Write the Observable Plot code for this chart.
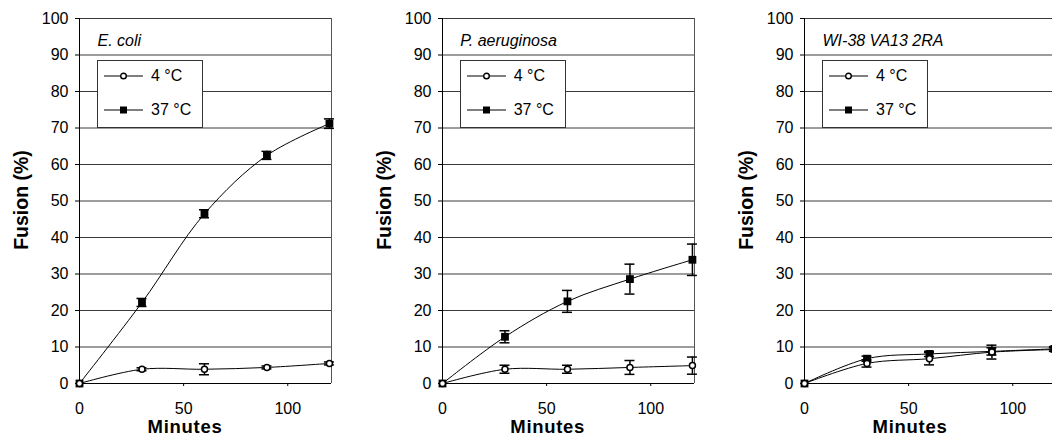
<!DOCTYPE html>
<html>
<head>
<meta charset="utf-8">
<script src="https://cdn.jsdelivr.net/npm/d3@7"></script>
<script src="https://cdn.jsdelivr.net/npm/@observablehq/plot@0.6"></script>
<style>
  body { margin: 0; background: #fff; }
  #chart {
    position: relative; width: 1052px; height: 439px; overflow: hidden;
    font-family: "Liberation Sans", Arial, sans-serif; color: #000; background: #fff;
  }
  .panel { position: absolute; top: 0; width: 351px; height: 439px; }
  .panel svg { position: absolute; left: 0; top: 0; }
  .ytitle {
    position: absolute; font-weight: bold; font-size: 19.5px; line-height: 20px;
    white-space: nowrap; transform: translate(-50%, -50%) rotate(-90deg);
  }
  .xtitle {
    position: absolute; font-weight: bold; font-size: 18.5px; line-height: 14px;
    letter-spacing: 0.7px; white-space: nowrap; transform: translateX(-50%);
  }
  .ptitle {
    position: absolute; font-style: italic; font-size: 16px; line-height: 16px; white-space: nowrap;
  }
  .legend {
    position: absolute; box-sizing: border-box; border: 1px solid #333; background: #fff;
  }
  .legend svg { position: absolute; left: 0; }
  .legend span {
    position: absolute; font-size: 16px; line-height: 16px; white-space: nowrap;
  }
</style>
</head>
<body>
<div id="chart"></div>
<script>
// Sampling times (minutes)
const minutes = [0, 30, 60, 90, 120];

// E. coli
const ecoli4 = [0, 3.9, 3.9, 4.4, 5.5];
const ecoli4Err = [0, 0.4, 1.5, 0.4, 0.4];
const ecoli37 = [0, 22.2, 46.5, 62.5, 71.2];
const ecoli37Err = [0, 1.1, 1.1, 1.1, 1.3];

// P. aeruginosa
const paer4 = [0, 3.9, 3.9, 4.4, 4.9];
const paer4Err = [0, 1.1, 1.1, 1.9, 2.35];
const paer37 = [0, 12.8, 22.5, 28.6, 33.9];
const paer37Err = [0, 1.65, 3.0, 4.1, 4.3];

// WI-38 VA13 2RA
const wi4 = [0, 5.5, 6.8, 8.6, 9.3];
const wi4Err = [0, 1.0, 1.7, 1.9, 0.5];
const wi37 = [0, 6.8, 8.1, 8.8, 9.5];
const wi37Err = [0, 0.7, 0.7, 1.0, 0.6];

const panelTitles = ["E. coli", "P. aeruginosa", "WI-38 VA13 2RA"];
const seriesLabels = ["4 °C", "37 °C"];
const yTicks = [0, 10, 20, 30, 40, 50, 60, 70, 80, 90, 100];
const xTicks = [0, 50, 100];
const xMax = 121;
const yAxisTitle = "Fusion (%)";
const xAxisTitle = "Minutes";

const panelData = [
  [ecoli4, ecoli4Err, ecoli37, ecoli37Err],
  [paer4, paer4Err, paer37, paer37Err],
  [wi4, wi4Err, wi37, wi37Err]
];

const panelLeft = [0, 362.7, 725];
const chart = document.getElementById("chart");

function rows(values, errs) {
  return minutes.map((t, i) => ({t, v: values[i], lo: values[i] - errs[i], hi: values[i] + errs[i]}));
}

// Vertical whisker plus short caps at both ends
function errorBars(data) {
  return [
    Plot.ruleX(data, {x: "t", y1: "lo", y2: "hi", stroke: "#000", strokeWidth: 1.5}),
    Plot.ruleY(data, {y: "lo", x1: "t", x2: "t", insetLeft: -5, insetRight: -5, stroke: "#000", strokeWidth: 1.5}),
    Plot.ruleY(data, {y: "hi", x1: "t", x2: "t", insetLeft: -5, insetRight: -5, stroke: "#000", strokeWidth: 1.5})
  ];
}

panelTitles.forEach((title, k) => {
  const [s4, e4, s37, e37] = panelData[k];
  const cold = rows(s4, e4);
  const warm = rows(s37, e37);

  const div = document.createElement("div");
  div.className = "panel";
  div.style.left = panelLeft[k] + "px";
  chart.appendChild(div);

  const svg = Plot.plot({
    width: 351,
    height: 439,
    marginLeft: 79,
    marginRight: 20,
    marginTop: 18,
    marginBottom: 56,
    style: {fontFamily: '"Liberation Sans", Arial, sans-serif', fontSize: "16px", color: "#000", background: "transparent", overflow: "visible"},
    x: {domain: [0, xMax]},
    y: {domain: [0, 100]},
    marks: [
      Plot.gridY(yTicks, {stroke: "#3a3a3a", strokeOpacity: 1}),
      Plot.ruleX([xMax], {stroke: "#555"}),
      Plot.ruleY([0], {stroke: "#000"}),
      Plot.ruleX([0], {stroke: "#000"}),
      Plot.axisY(yTicks, {tickSize: 4, tickPadding: 7, label: null, stroke: "#000"}),
      Plot.axisX(xTicks, {tickSize: 3, tickPadding: 16, label: null, stroke: "#000"}),
      Plot.line(cold, {x: "t", y: "v", curve: "catmull-rom", stroke: "#000", strokeWidth: 1}),
      Plot.line(warm, {x: "t", y: "v", curve: "catmull-rom", stroke: "#000", strokeWidth: 1}),
      ...errorBars(cold.slice(1)),
      ...errorBars(warm.slice(1)),
      Plot.dot(warm, {x: "t", y: "v", symbol: "square", r: 4.4, fill: "#000", stroke: "none"}),
      Plot.dot(cold, {x: "t", y: "v", symbol: "circle", r: 3, fill: "#fff", stroke: "#000", strokeWidth: 1.5})
    ]
  });
  div.appendChild(svg);

  // Axis titles
  const yt = document.createElement("div");
  yt.className = "ytitle";
  yt.textContent = yAxisTitle;
  yt.style.left = "21px";
  yt.style.top = "200px";
  div.appendChild(yt);

  const xt = document.createElement("div");
  xt.className = "xtitle";
  xt.textContent = xAxisTitle;
  xt.style.left = "185px";
  xt.style.top = "420.2px";
  div.appendChild(xt);

  // Panel title
  const pt = document.createElement("div");
  pt.className = "ptitle";
  pt.textContent = title;
  pt.style.left = "97.5px";
  pt.style.top = "33px";
  div.appendChild(pt);

  // Legend box
  const lg = document.createElement("div");
  lg.className = "legend";
  lg.style.left = "97px";
  lg.style.top = "60px";
  lg.style.width = "106px";
  lg.style.height = "68px";
  div.appendChild(lg);

  const ns = "http://www.w3.org/2000/svg";
  seriesLabels.forEach((lab, j) => {
    const cy = j === 0 ? 15 : 49;
    const sw = document.createElementNS(ns, "svg");
    sw.setAttribute("width", 50);
    sw.setAttribute("height", 12);
    sw.style.top = (cy - 6) + "px";
    const ln = document.createElementNS(ns, "line");
    ln.setAttribute("x1", 6); ln.setAttribute("x2", 45);
    ln.setAttribute("y1", 6); ln.setAttribute("y2", 6);
    ln.setAttribute("stroke", "#000"); ln.setAttribute("stroke-width", 1);
    sw.appendChild(ln);
    if (j === 0) {
      const c = document.createElementNS(ns, "circle");
      c.setAttribute("cx", 25.5); c.setAttribute("cy", 6); c.setAttribute("r", 2.8);
      c.setAttribute("fill", "#fff"); c.setAttribute("stroke", "#000"); c.setAttribute("stroke-width", 1.4);
      sw.appendChild(c);
    } else {
      const r = document.createElementNS(ns, "rect");
      r.setAttribute("x", 22); r.setAttribute("y", 2.5); r.setAttribute("width", 7); r.setAttribute("height", 7);
      r.setAttribute("fill", "#000");
      sw.appendChild(r);
    }
    lg.appendChild(sw);
    const sp = document.createElement("span");
    sp.textContent = lab;
    sp.style.left = "53px";
    sp.style.top = (cy + 5.7 - 13.5) + "px";
    lg.appendChild(sp);
  });
});
</script>
</body>
</html>
